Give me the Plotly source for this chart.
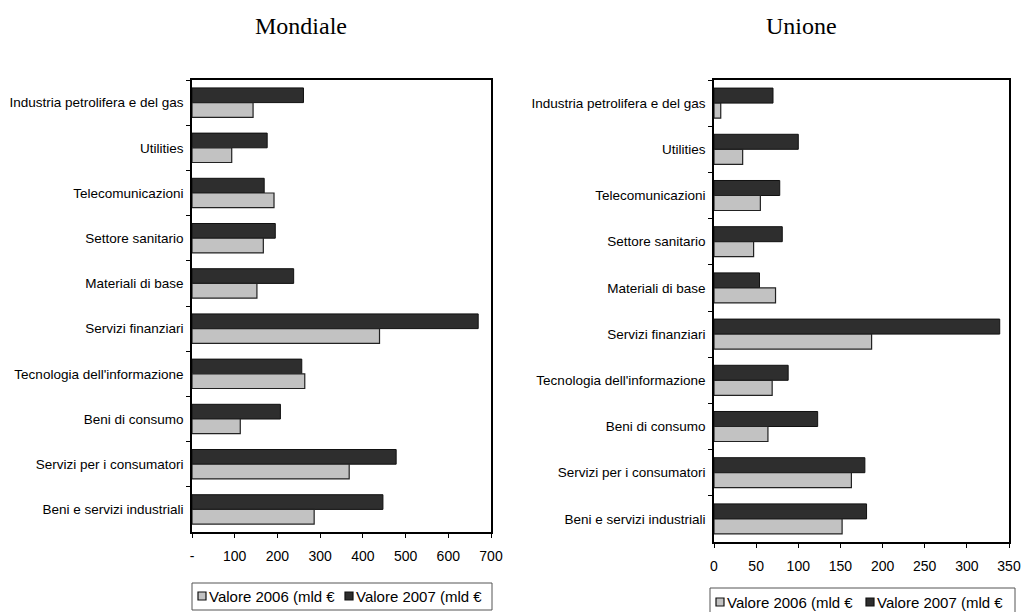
import plotly.graph_objects as go

categories = [
    "Industria petrolifera e del gas",
    "Utilities",
    "Telecomunicazioni",
    "Settore sanitario",
    "Materiali di base",
    "Servizi finanziari",
    "Tecnologia dell'informazione",
    "Beni di consumo",
    "Servizi per i consumatori",
    "Beni e servizi industriali",
]

mondiale_2006 = [143, 93, 192, 167, 152, 439, 264, 113, 368, 286]
mondiale_2007 = [261, 176, 169, 195, 238, 670, 257, 207, 478, 447]

unione_2006 = [8, 34, 55, 47, 73, 187, 69, 64, 163, 152]
unione_2007 = [70, 100, 78, 81, 54, 339, 88, 123, 179, 181]

label_2006 = "Valore 2006 (mld €"
label_2007 = "Valore 2007 (mld €"

left_ticks = [0, 100, 200, 300, 400, 500, 600, 700]
left_ticktext = ["-", "100", "200", "300", "400", "500", "600", "700"]
right_ticks = [0, 50, 100, 150, 200, 250, 300, 350]

DARK = "#2e2e2e"
LIGHT = "#c2c2c2"
W, H = 1023, 612

fig = go.Figure()

# Left panel (Mondiale)
fig.add_trace(go.Bar(y=categories, x=mondiale_2007, orientation="h", name=label_2007,
                     marker=dict(color=DARK, line=dict(color="#111", width=1)),
                     xaxis="x", yaxis="y"))
fig.add_trace(go.Bar(y=categories, x=mondiale_2006, orientation="h", name=label_2006,
                     marker=dict(color=LIGHT, line=dict(color="#222", width=1.2)),
                     xaxis="x", yaxis="y"))
# Right panel (Unione)
fig.add_trace(go.Bar(y=categories, x=unione_2007, orientation="h", name=label_2007,
                     marker=dict(color=DARK, line=dict(color="#111", width=1)),
                     xaxis="x2", yaxis="y2"))
fig.add_trace(go.Bar(y=categories, x=unione_2006, orientation="h", name=label_2006,
                     marker=dict(color=LIGHT, line=dict(color="#222", width=1.2)),
                     xaxis="x2", yaxis="y2"))

font_sans = "Liberation Sans, Arial, sans-serif"
font_serif = "Liberation Serif, Times New Roman, serif"

def xaxis_cfg(domain, rng, tickvals, ticktext, anchor):
    return dict(domain=domain, range=rng, tickvals=tickvals, ticktext=ticktext,
                showgrid=False, zeroline=False, showline=True, linecolor="black",
                linewidth=1.5, mirror=True, ticks="outside", ticklen=4,
                tickcolor="black", anchor=anchor, fixedrange=True,
                tickfont=dict(family=font_sans, size=14, color="black"),
                ticklabelstandoff=6)

def yaxis_cfg(domain, anchor):
    return dict(domain=domain, autorange="reversed", showgrid=False,
                showline=True, linecolor="black", linewidth=1.5, mirror=True,
                ticks="outside", ticklen=4, tickcolor="black", tickson="boundaries",
                anchor=anchor, fixedrange=True, ticklabelstandoff=4,
                tickfont=dict(family=font_sans, size=13.5, color="black"))

def px(x):
    return x / W

def py(y):
    return 1 - y / H

shapes = []
annotations = [
    dict(text="Mondiale", x=px(301), y=py(26), xref="paper", yref="paper",
         xanchor="center", yanchor="middle", showarrow=False,
         font=dict(family=font_serif, size=24, color="black")),
    dict(text="Unione", x=px(801), y=py(26), xref="paper", yref="paper",
         xanchor="center", yanchor="middle", showarrow=False,
         font=dict(family=font_serif, size=24, color="black")),
]

# Legends drawn as a bordered box with two swatches and labels, one per panel
def add_legend(box_x0, box_x1, box_y0, box_y1, sym1_x, sym2_x, text_y):
    shapes.append(dict(type="rect", xref="paper", yref="paper",
                       x0=px(box_x0), x1=px(box_x1), y0=py(box_y1), y1=py(box_y0),
                       line=dict(color="#555", width=1), fillcolor="white",
                       layer="below"))
    for sx, color, label in ((sym1_x, LIGHT, label_2006), (sym2_x, DARK, label_2007)):
        shapes.append(dict(type="rect", xref="paper", yref="paper",
                           x0=px(sx), x1=px(sx + 8), y0=py(text_y + 4), y1=py(text_y - 4),
                           line=dict(color="#111", width=1.2), fillcolor=color))
        annotations.append(dict(text=label, x=px(sx + 9), y=py(text_y), xref="paper",
                                yref="paper", xanchor="left", yanchor="middle",
                                showarrow=False,
                                font=dict(family=font_sans, size=15, color="black")))

add_legend(192, 492, 583, 610, 198, 345, 596)
add_legend(710, 1015, 588, 620, 716, 866, 602)

fig.update_layout(
    width=W, height=H,
    margin=dict(l=0, r=0, t=0, b=0, autoexpand=False),
    paper_bgcolor="white", plot_bgcolor="white",
    showlegend=False,
    barmode="group", bargap=0.35, bargroupgap=0.0,
    xaxis=xaxis_cfg([px(192), px(491)], [0, 700], left_ticks, left_ticktext, "y"),
    yaxis=yaxis_cfg([py(532), py(80)], "x"),
    xaxis2=xaxis_cfg([px(714), px(1009)], [0, 350], right_ticks,
                     [str(v) for v in right_ticks], "y2"),
    yaxis2=yaxis_cfg([py(542), py(80)], "x2"),
    shapes=shapes,
    annotations=annotations,
)

fig.write_html("out.html", config={"displayModeBar": False},
               post_script="document.body.style.margin='0px';")
